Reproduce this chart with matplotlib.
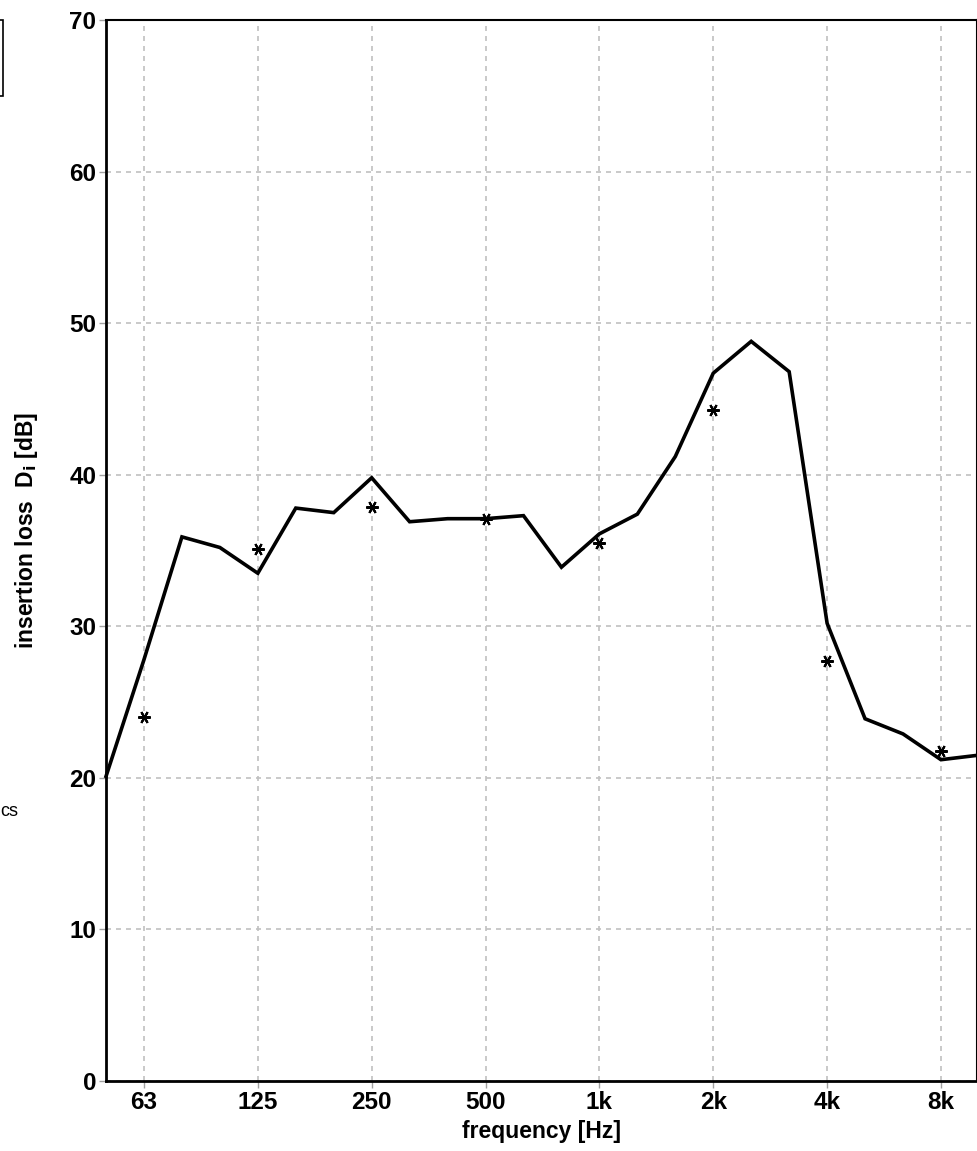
import matplotlib
matplotlib.use('Agg')
import matplotlib.pyplot as plt
from matplotlib.patches import Rectangle

plt.rcParams['font.family'] = ['Liberation Sans', 'DejaVu Sans']

# third-octave bands 50 Hz .. 10 kHz
bands = ['50', '63', '80', '100', '125', '160', '200', '250', '315', '400', '500', '630',
         '800', '1k', '1.25k', '1.6k', '2k', '2.5k', '3.15k', '4k', '5k', '6.3k', '8k', '10k']
loss_third = [20.1, 27.8, 35.9, 35.2, 33.5, 37.8, 37.5, 39.8, 36.9, 37.1, 37.1, 37.3,
              33.9, 36.1, 37.4, 41.2, 46.7, 48.8, 46.8, 30.2, 23.9, 22.9, 21.2, 21.5]

# octave band values (asterisks)
octave_labels = ['63', '125', '250', '500', '1k', '2k', '4k', '8k']
loss_octave = [24.0, 35.1, 37.9, 37.1, 35.5, 44.3, 27.7, 21.8]

x_third = list(range(len(bands)))
x_oct = [bands.index(b) for b in octave_labels]

fig = plt.figure(figsize=(9.78, 11.51), dpi=100)
ax = fig.add_axes([0.1084, 0.0608, 0.8906, 0.9218])

ax.plot(x_third, loss_third, color='black', lw=2.6, solid_joinstyle='miter', clip_on=False, zorder=3)
ax.plot(x_oct, loss_octave, ls='none', marker=(6, 2, 90), ms=9, mew=1.5, color='black', zorder=4)

ax.set_xlim(0, 22.95)
ax.set_ylim(0, 70)
ax.set_xticks(x_oct)
ax.set_xticklabels(octave_labels)
ax.set_yticks(range(0, 71, 10))

ax.grid(True, color='#c0c0c0', ls=(0, (3, 3)), lw=1.2)
ax.tick_params(axis='both', colors='#a0a0a0', length=5, width=1, labelcolor='black', labelsize=17.5)
ax.tick_params(axis='x', pad=2)
ax.tick_params(axis='y', pad=2)
for lab in ax.get_xticklabels() + ax.get_yticklabels():
    lab.set_fontweight('bold')

for s in ax.spines.values():
    s.set_color('black')
    s.set_linewidth(1.5)
ax.spines['left'].set_linewidth(2)
ax.spines['bottom'].set_linewidth(2)

ax.set_xlabel('frequency [Hz]', fontsize=16.5, fontweight='bold')
ax.xaxis.set_label_coords(0.5, -0.037)
ax.set_ylabel('insertion loss  D$_\\mathbf{i}$ [dB]', fontsize=16.5, fontweight='bold')
ax.yaxis.set_label_coords(-0.076, 0.519)

# pieces of a legend cut off at the left edge
fig.patches.append(Rectangle((-0.05, 1 - 96 / 1151), 0.053, 76 / 1151, transform=fig.transFigure,
                             fill=False, edgecolor='black', lw=1.2))
fig.text(0.0, 1 - 812 / 1151, 'cs', fontsize=13, ha='left', va='center')

fig.savefig('out.png', dpi=100)
